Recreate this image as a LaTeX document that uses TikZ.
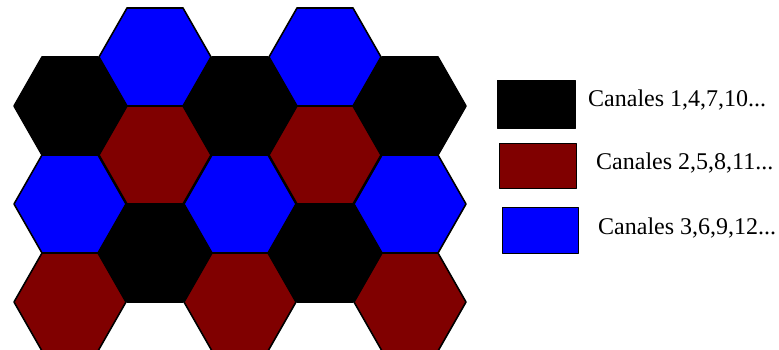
\documentclass[tikz,border=0pt]{standalone}
\usepackage{fontspec}
\setmainfont{Liberation Serif}
\definecolor{chanblack}{HTML}{000000}
\definecolor{chanred}{HTML}{800000}
\definecolor{chanblue}{HTML}{0000FF}

\begin{document}
\begin{tikzpicture}[x=1pt,y=-1pt,line join=round,
  cell/.style={draw=black,line width=1.6pt},
  keybox/.style={draw=black,line width=1pt,inner sep=0pt},
  keytext/.style={anchor=base west,inner sep=0pt,font=\fontsize{24}{28}\selectfont}]
  % Match the artwork frame of the scanned figure.
  \useasboundingbox (0,0) rectangle (779,349);

  % Flat-topped cells: column centre, row centre, channel group colour.
  \foreach \cx/\cy/\col in {70/106/chanblack, 70/204/chanblue, 70/302/chanred,
                            155/57/chanblue, 155/155/chanred, 155/253/chanblack,
                            240/106/chanblack, 240/204/chanblue, 240/302/chanred,
                            325/57/chanblue, 325/155/chanred, 325/253/chanblack,
                            410/106/chanblack, 410/204/chanblue, 410/302/chanred} {
    \filldraw[cell,fill=\col] (\cx+56,\cy) -- (\cx+28,\cy-49) -- (\cx-28,\cy-49)
      -- (\cx-56,\cy) -- (\cx-28,\cy+49) -- (\cx+28,\cy+49) -- cycle;
  }

  % Legend: one swatch per channel group.
  \node[keybox,fill=chanblack,minimum width=78pt,minimum height=48pt] (key1) at (536,104) {};
  \node[keybox,fill=chanred,minimum width=77pt,minimum height=45pt] (key2) at (537.5,165.5) {};
  \node[keybox,fill=chanblue,minimum width=76pt,minimum height=46pt] (key3) at (540,230) {};

  \node[keytext] (lab1) at (588,106) {Canales 1,4,7,10...};
  \node[keytext] (lab2) at (596,169) {Canales 2,5,8,11...};
  \node[keytext] (lab3) at (598,234) {Canales 3,6,9,12...};
\end{tikzpicture}
\end{document}
